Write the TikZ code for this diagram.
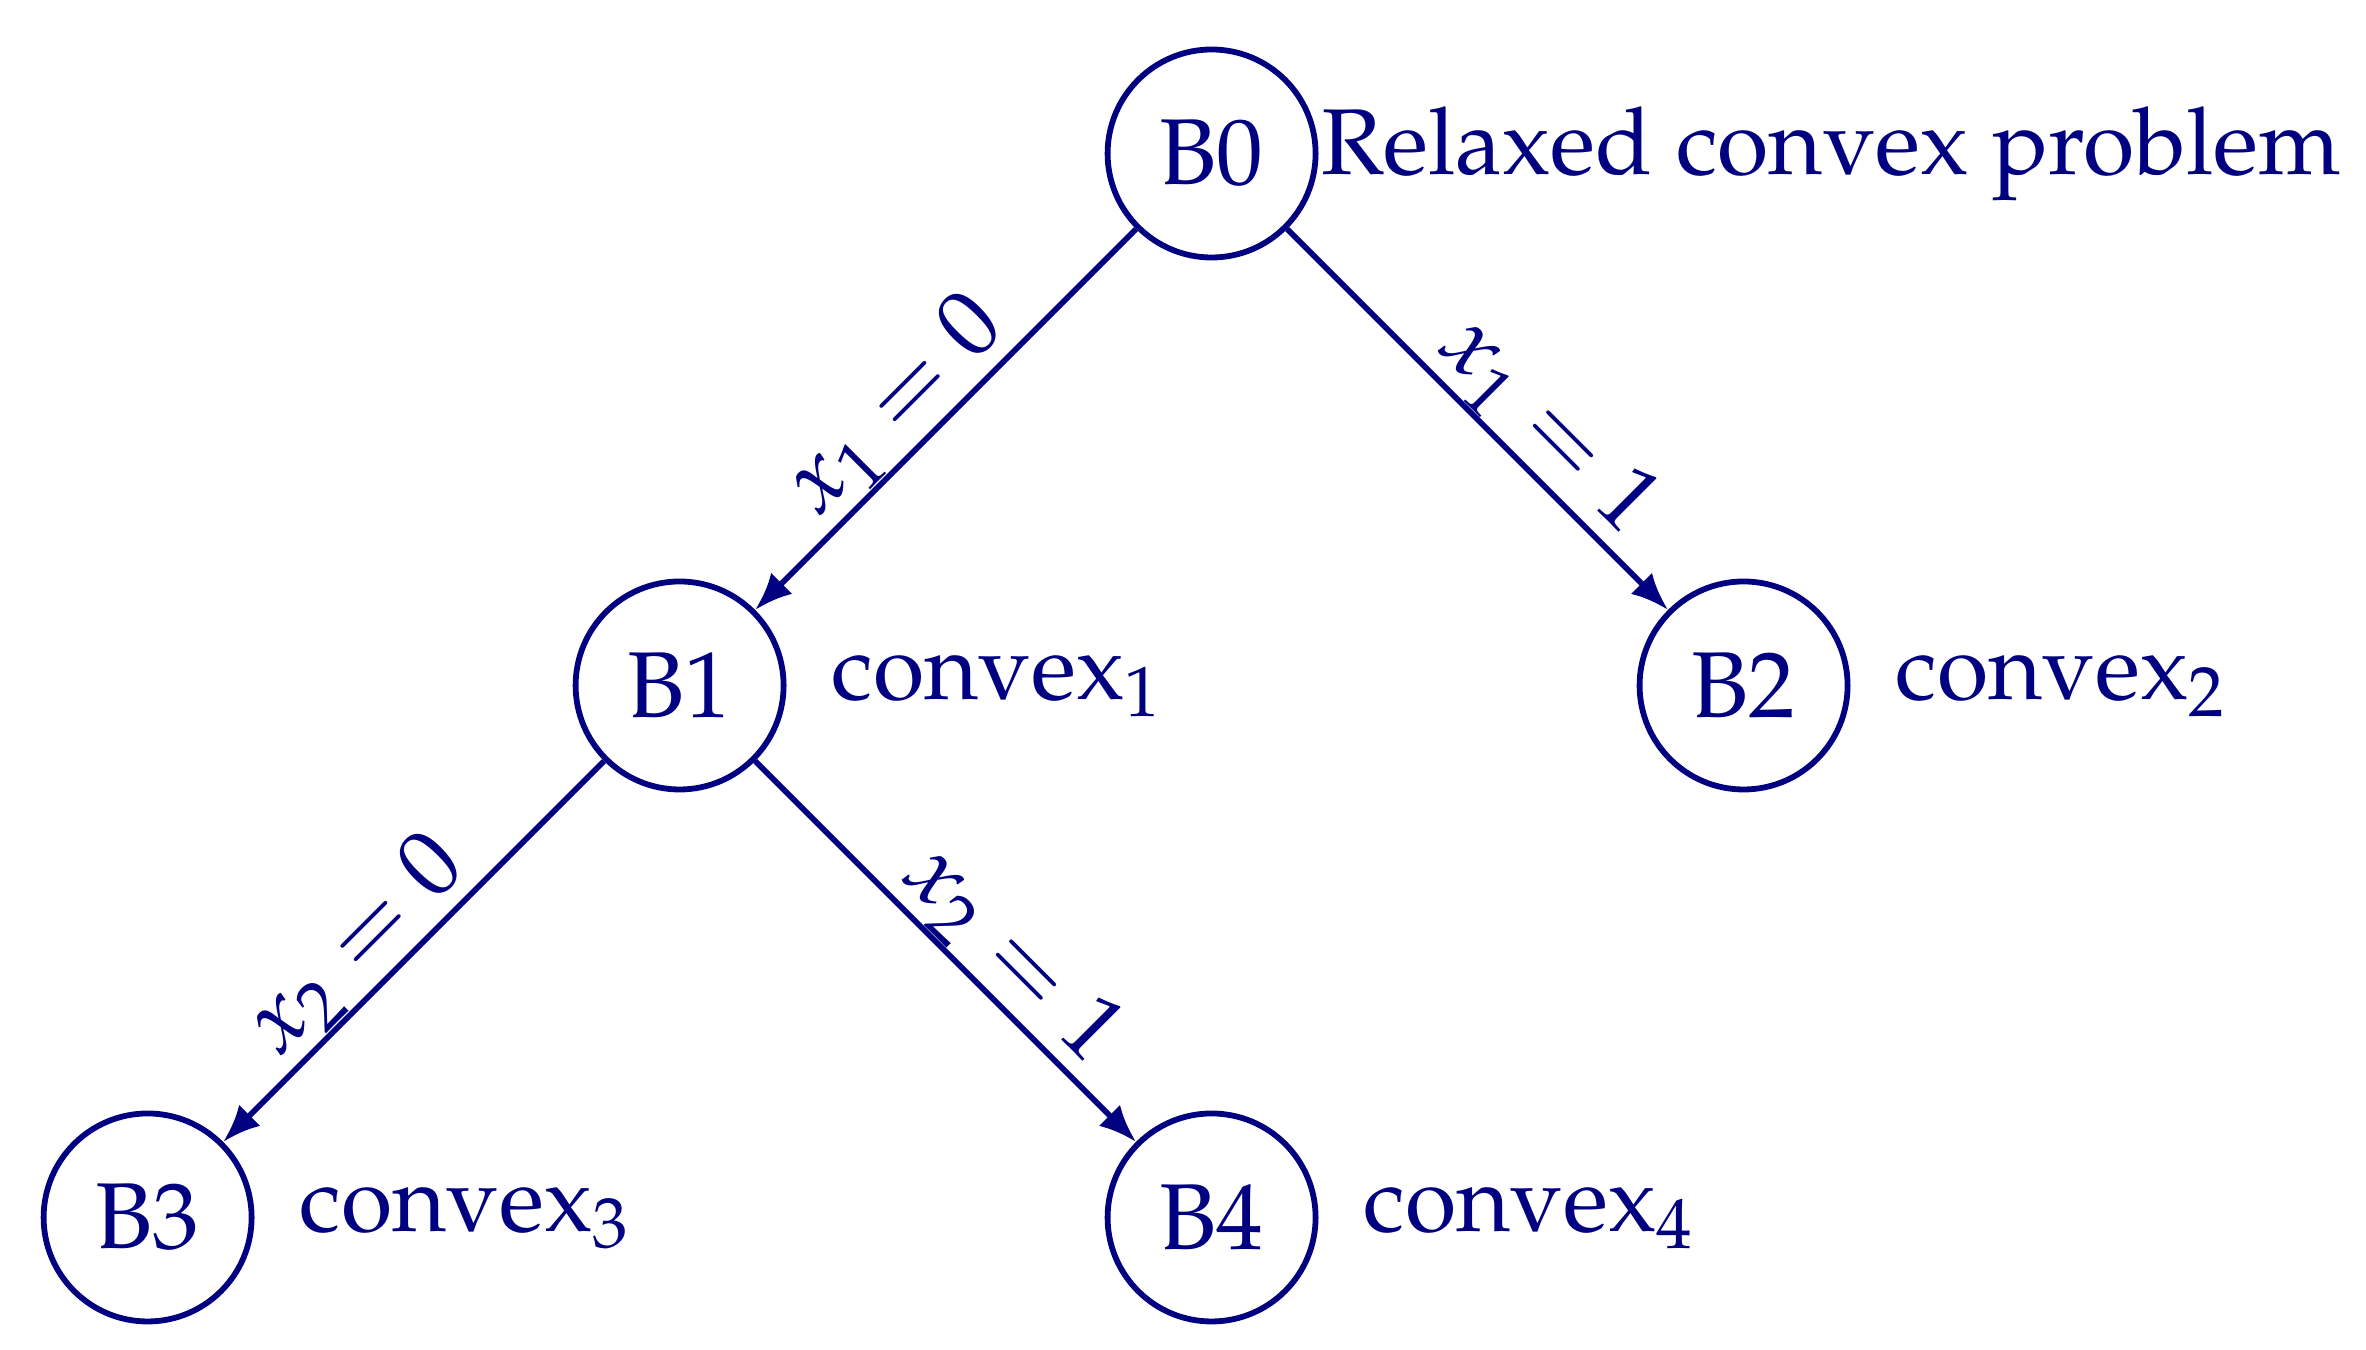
\documentclass[tikz,border=0pt]{standalone}
\usepackage[T1]{fontenc}
\usepackage{mathpazo}
\usetikzlibrary{arrows.meta}
\definecolor{navyblue}{RGB}{0,0,128}
\begin{document}
\begin{tikzpicture}[
  line width=0.62pt,
  bnode/.style={circle, draw=navyblue, minimum size=0.782cm, inner sep=0pt, text=navyblue},
  desc/.style={anchor=west, inner sep=0pt, text=navyblue},
  branch/.style={-{Latex[length=4pt,width=3.2pt]}, draw=navyblue},
  lab/.style={sloped, above, inner sep=0pt, text=navyblue}
]
\useasboundingbox (-0.555,-0.498) rectangle (8.340,4.577);
\node[bnode] (B0) at (4,4) {B0};
\node[bnode] (B1) at (2,2) {B1};
\node[bnode] (B2) at (6,2) {B2};
\node[bnode] (B3) at (0,0) {B3};
\node[bnode] (B4) at (4,0) {B4};
\node[desc] (d0) at ([xshift=0.0cm]B0.east) {Relaxed convex problem};
\node[desc] (d1) at ([xshift=0.16cm]B1.east) {convex$_1$};
\node[desc] (d2) at ([xshift=0.16cm]B2.east) {convex$_2$};
\node[desc] (d3) at ([xshift=0.16cm]B3.east) {convex$_3$};
\node[desc] (d4) at ([xshift=0.16cm]B4.east) {convex$_4$};
\draw[branch] (B0) -- node[lab, pos=0.55] (l1) {$x_1=0$} (B1);
\draw[branch] (B0) -- node[lab, pos=0.6] (l2) {$x_1=1$} (B2);
\draw[branch] (B1) -- node[lab, pos=0.57] (l3) {$x_2=0$} (B3);
\draw[branch] (B1) -- node[lab, pos=0.59] (l4) {$x_2=1$} (B4);
\end{tikzpicture}
\end{document}
